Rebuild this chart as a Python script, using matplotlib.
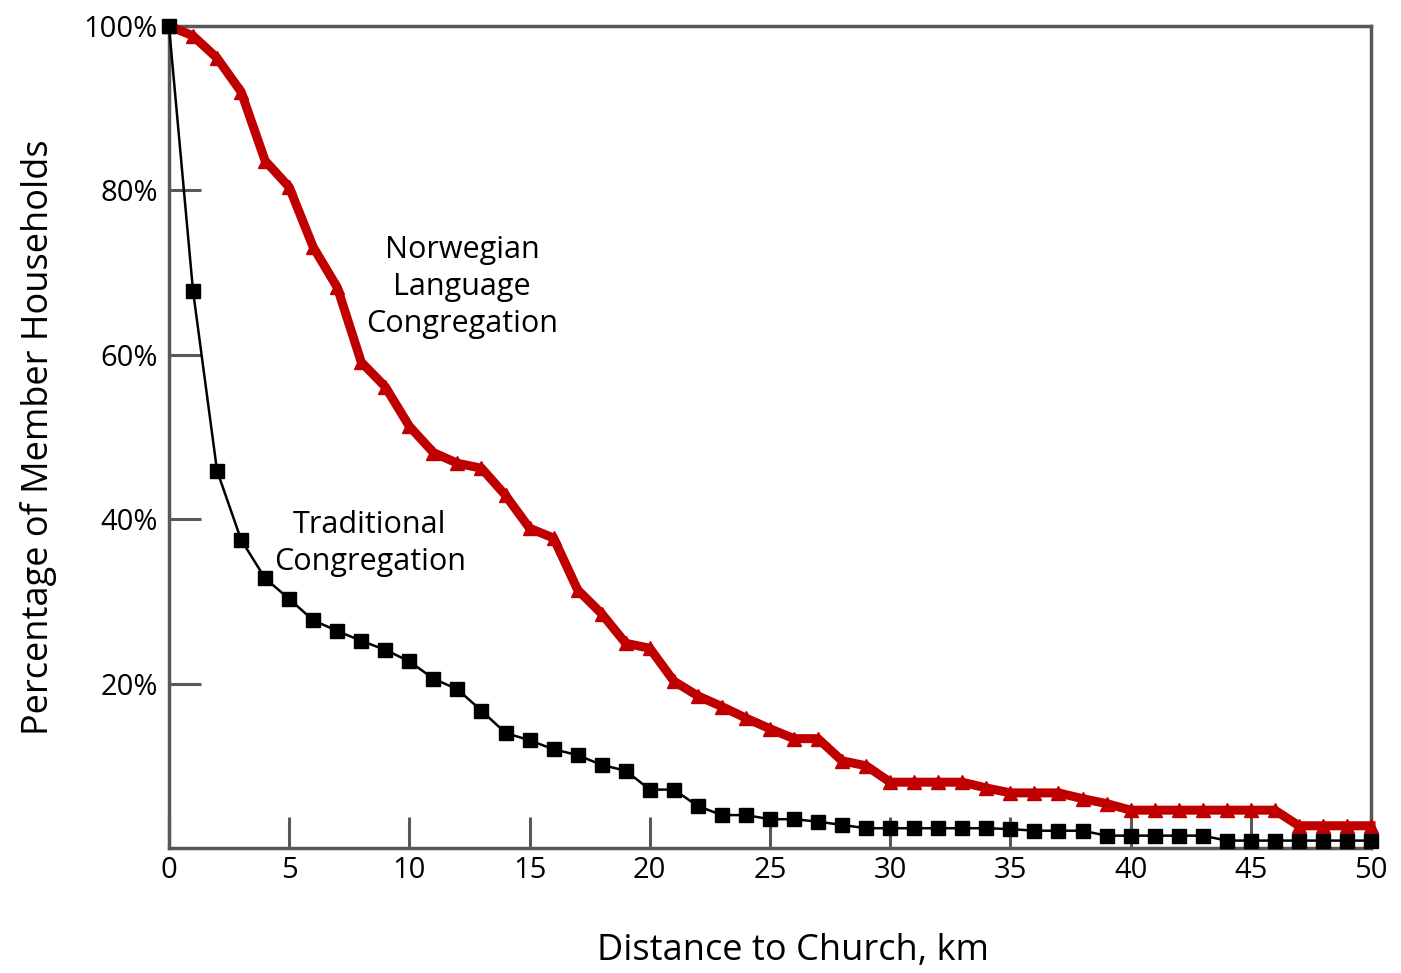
import matplotlib
matplotlib.use('Agg')
import matplotlib.pyplot as plt
import numpy as np

distance_km = list(range(0, 51))

norwegian = [100, 98.8, 96.1, 92.0, 83.6, 80.4, 73.1, 68.2, 59.1, 56.1,
             51.3, 48.1, 46.8, 46.2, 42.9, 38.9, 37.7, 31.4, 28.5, 24.9,
             24.3, 20.3, 18.5, 17.2, 15.8, 14.5, 13.3, 13.3, 10.6, 10.0,
             8.0, 8.0, 8.0, 8.0, 7.3, 6.7, 6.7, 6.7, 6.0, 5.4,
             4.6, 4.6, 4.6, 4.6, 4.6, 4.6, 4.6, 2.7, 2.7, 2.7, 2.7]

traditional = [100, 67.8, 45.9, 37.5, 32.8, 30.3, 27.7, 26.4, 25.2, 24.1,
               22.7, 20.6, 19.3, 16.7, 14.0, 13.1, 12.0, 11.3, 10.1, 9.4,
               7.1, 7.1, 5.1, 4.0, 4.0, 3.5, 3.5, 3.2, 2.8, 2.4,
               2.4, 2.4, 2.4, 2.4, 2.4, 2.3, 2.1, 2.1, 2.1, 1.5,
               1.5, 1.5, 1.5, 1.5, 0.9, 0.9, 0.9, 0.9, 0.9, 0.9, 0.9]

x_ticks = [0, 5, 10, 15, 20, 25, 30, 35, 40, 45, 50]
y_ticks = [20, 40, 60, 80, 100]
y_ticklabels = ['20%', '40%', '60%', '80%', '100%']

plt.rcParams['font.family'] = ['Open Sans', 'DejaVu Sans']
axis_grey = '#58585a'

fig = plt.figure(figsize=(14.01, 9.73), dpi=100)
ax = fig.add_axes([0.1206, 0.1285, 0.858, 0.8448])

ax.plot(distance_km, norwegian, color='#c00000', lw=6.5, marker='^',
        markersize=10, clip_on=False, zorder=3)
ax.plot(distance_km, traditional, color='black', lw=1.8, marker='s',
        markersize=9.5, clip_on=False, zorder=4)

ax.set_xlim(0, 50)
ax.set_ylim(0, 100)

for side in ['left', 'right', 'top', 'bottom']:
    ax.spines[side].set_color(axis_grey)
    ax.spines[side].set_linewidth(2.5)

ax.set_xticks(x_ticks)
ax.set_yticks(y_ticks)
ax.set_yticklabels(y_ticklabels)
ax.tick_params(axis='x', direction='in', length=22, width=2.2,
               color=axis_grey, labelsize=21, pad=6)
ax.tick_params(axis='y', direction='in', length=23, width=2.2,
               color=axis_grey, labelsize=21, pad=8)
ax.yaxis.get_major_ticks()[-1].tick1line.set_visible(False)

ax.set_xlabel('Distance to Church, km', fontsize=26, labelpad=34)
ax.xaxis.label.set_x(0.519)
ax.set_ylabel('Percentage of Member Households', fontsize=26, labelpad=19)

ax.text(12.2, 68.2, 'Norwegian\nLanguage\nCongregation', ha='center',
        va='center', fontsize=22, linespacing=1.3)
ax.text(8.35, 37.0, 'Traditional\nCongregation', ha='center',
        va='center', fontsize=22, linespacing=1.3)

fig.savefig('out.png', dpi=100)
